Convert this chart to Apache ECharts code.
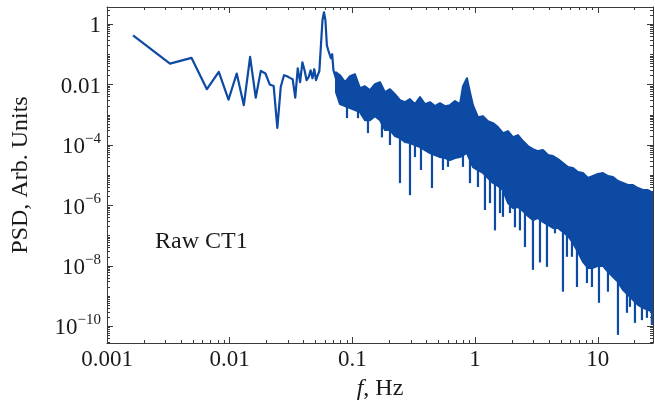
<!DOCTYPE html>
<html><head><meta charset="utf-8">
<script src="https://cdn.jsdelivr.net/npm/echarts@6/dist/echarts.min.js"></script>
<style>html,body{margin:0;padding:0;background:#fff}#c{width:655px;height:410px}</style>
</head><body><div id="c"></div>
<script>
// ---- data ----
const lowFreq = [0.00163,0.00326,0.00489,0.00652,0.00815,0.00978,0.01141,0.01304,0.01467,0.0163,0.01793,0.01956,0.02119,0.02282,0.02445,0.02608,0.02771,0.02934,0.03097,0.0326,0.03423,0.03586,0.03749,0.03912,0.04075,0.04238,0.04401,0.04564,0.04727,0.0489,0.05053,0.05216,0.05379,0.05542,0.05705,0.05868,0.06031,0.06194,0.06357,0.0652,0.06683,0.06846,0.07009,0.07172,0.07335];
const lowPsd = [0.43,0.050,0.077,0.0071,0.0265,0.0032,0.0234,0.0021,0.083,0.0037,0.0286,0.0234,0.0102,0.0091,0.00037,0.0085,0.0206,0.0191,0.0168,0.0152,0.0037,0.035,0.0121,0.055,0.030,0.0141,0.0177,0.030,0.0164,0.0325,0.0141,0.0206,0.0279,0.202,1.36,2.49,1.36,0.202,0.138,0.119,0.075,0.102,0.030,0.0259,0.0164];

const bandFreq = [0.0735,0.0792,0.0870,0.0956,0.1050,0.1153,0.1267,0.1391,0.1528,0.1679,0.1844,0.2025,0.2224,0.2443,0.2684,0.2948,0.3238,0.3556,0.3906,0.4290,0.4712,0.5176,0.5685,0.6244,0.6858,0.7533,0.7969,0.8590,0.9087,0.9614,1.056,1.160,1.274,1.399,1.537,1.688,1.854,2.037,2.237,2.457,2.699,2.964,3.256,3.576,3.928,4.314,4.739,5.205,5.717,6.280,6.898,7.576,8.322,9.141,10.04,11.03,12.11,13.30,14.61,16.05,17.63,19.36,21.27,23.36,25.65,28.18];
const bandUpper = [2.59e-2,2.06e-2,1.21e-2,1.91e-2,2.22e-2,7.66e-3,8.91e-3,6.58e-3,1.04e-2,1.21e-2,5.65e-3,7.10e-3,4.85e-3,3.08e-3,2.64e-3,3.32e-3,2.27e-3,3.86e-3,2.27e-3,2.64e-3,1.95e-3,2.44e-3,1.95e-3,2.10e-3,2.85e-3,2.27e-3,8.91e-3,1.64e-2,5.65e-3,2.10e-3,8.43e-4,9.10e-4,6.21e-4,5.33e-4,3.94e-4,2.49e-4,2.90e-4,1.84e-4,2.14e-4,1.36e-4,9.27e-5,7.38e-5,6.34e-5,6.84e-5,4.67e-5,4.33e-5,3.44e-5,2.54e-5,1.87e-5,1.74e-5,1.28e-5,1.19e-5,8.11e-6,9.44e-6,1.10e-5,1.19e-5,9.44e-6,8.75e-6,6.46e-6,5.55e-6,4.76e-6,4.76e-6,3.79e-6,3.25e-6,3.25e-6,2.59e-6];
const bandLower = [5.65e-3,2.27e-3,1.95e-3,1.67e-3,1.44e-3,1.23e-3,6.70e-4,6.70e-4,9.10e-4,6.70e-4,3.13e-4,3.13e-4,1.99e-4,1.70e-4,1.26e-4,1.16e-4,1.00e-4,8.59e-5,6.84e-5,5.44e-5,4.67e-5,4.01e-5,3.72e-5,3.19e-5,3.72e-5,4.01e-5,4.67e-5,5.44e-5,3.19e-5,1.87e-5,1.49e-5,1.19e-5,8.11e-6,5.55e-6,4.42e-6,3.25e-6,1.21e-6,8.26e-7,8.91e-7,6.58e-7,4.50e-7,3.32e-7,3.86e-7,2.85e-7,2.27e-7,1.80e-7,1.80e-7,1.33e-7,9.82e-8,5.75e-8,2.90e-8,1.36e-8,8.59e-9,8.59e-9,1.00e-8,1.00e-8,6.34e-9,4.33e-9,2.96e-9,1.61e-9,1.10e-9,7.52e-10,5.14e-10,4.09e-10,3.51e-10,3.01e-10];

const spikeFreq = [0.0904,0.1111,0.1340,0.1742,0.2025,0.2443,0.2948,0.3238,0.3623,0.4454,0.5475,0.6014,0.7969,0.9087,1.056,1.204,1.323,1.453,1.596,1.688,1.925,2.114,2.322,2.551,2.964,3.380,3.855,4.479,5.205,5.610,6.163,6.770,8.166,8.969,10.23,12.11,14.61,17.30,18.30,20.10,22.92,25.18,27.6];
const spikeTop = [1.9e-3,1.4e-3,6.7e-4,6.7e-4,3.1e-4,1.7e-4,1.2e-4,1.0e-4,8.6e-5,5.4e-5,4.0e-5,3.7e-5,4.7e-5,3.2e-5,1.5e-5,1.0e-5,7.0e-6,5.1e-6,3.8e-6,3.2e-6,1.0e-6,8.3e-7,8.3e-7,6.1e-7,3.3e-7,3.6e-7,2.4e-7,1.8e-7,1.3e-7,1.1e-7,7.2e-8,3.4e-8,1.0e-8,8.6e-9,1.0e-8,6.3e-9,3.0e-9,1.2e-9,9.4e-10,6.5e-10,4.4e-10,3.8e-10,3.0e-10];
const spikeBottom = [7.8e-4,7.8e-4,2.5e-4,1.8e-4,1.0e-4,5.5e-6,2.2e-6,4.0e-5,1.5e-5,3.8e-6,1.5e-5,1.9e-5,1.9e-5,5.5e-6,4.1e-6,7.1e-7,1.2e-6,1.5e-7,5.6e-7,4.2e-7,5.6e-7,1.9e-7,1.5e-7,4.2e-8,7.4e-9,1.3e-8,9.3e-9,1.2e-7,1.4e-9,2.0e-8,2.0e-8,2.0e-9,2.7e-9,2.0e-9,6.0e-10,1.4e-9,5.2e-11,2.8e-10,4.4e-10,1.3e-10,1.6e-10,1.9e-10,1.1e-10];

// ---- axes / ticks ----
const xRange = [0.001, 28.2];
const yRange = [2.8e-11, 3.73];
const xTickValues = [0.001, 0.01, 0.1, 1, 10];
const xTickLabels = ['0.001', '0.01', '0.1', '1', '10'];
const yTickValues = [1, 0.01, 1e-4, 1e-6, 1e-8, 1e-10];
const yTickLabels = ['1', '0.01', '10^\u22124', '10^\u22126', '10^\u22128', '10^\u221210'];

const L = Math.log10;
const BLUE = '#0c4aa4';
const INK = '#1a1a1a';
const AXC = '#3a3a3a';
const FONT = '"Liberation Serif", "DejaVu Serif", serif';

const xLo = L(xRange[0]), xHi = L(xRange[1]);
const yLo = L(yRange[0]), yHi = L(yRange[1]);
const xMajor = xTickValues.map(L);
const yMajor = yTickValues.map(L);

function minorTicks(lo, hi, majors) {
  const out = [];
  for (let n = Math.floor(lo) - 1; n <= Math.ceil(hi); n++) {
    for (let k = 1; k <= 9; k++) {
      const v = n + L(k);
      if (v <= lo || v >= hi) continue;
      if (majors.some(m => Math.abs(m - v) < 1e-9)) continue;
      out.push(v);
    }
  }
  return out;
}
const xMinor = minorTicks(xLo, xHi, xMajor);
const yMinor = minorTicks(yLo, yHi, yMajor);

function findIdx(arr, v) { return arr.findIndex(t => Math.abs(t - v) < 1e-6); }

function makeX(pos, ticks, len, withLabel, withLine) {
  const ax = {
    type: 'value', gridIndex: 0, position: pos, min: xLo, max: xHi,
    splitLine: { show: false }, minorTick: { show: false }, splitArea: { show: false },
    axisLine: { show: withLine, onZero: false, lineStyle: { color: AXC, width: 1 } },
    axisTick: { show: true, inside: true, length: len, customValues: ticks, lineStyle: { color: AXC, width: 1 } },
    axisLabel: { show: false }
  };
  if (withLabel) {
    ax.axisLabel = {
      show: true, customValues: xMajor, margin: 5, color: INK, fontFamily: FONT, fontSize: 23,
      formatter: v => { const i = findIdx(xMajor, v); return i >= 0 ? xTickLabels[i] : ''; }
    };
    ax.name = '{i|f}, Hz';
    ax.nameLocation = 'middle';
    ax.nameGap = 34;
    ax.nameTextStyle = { color: INK, fontFamily: FONT, fontSize: 24,
      rich: { i: { fontStyle: 'italic', fontFamily: FONT, fontSize: 24, color: INK } } };
  }
  return ax;
}
function makeY(pos, ticks, len, withLabel, withLine) {
  const ax = {
    type: 'value', gridIndex: 0, position: pos, min: yLo, max: yHi,
    splitLine: { show: false }, minorTick: { show: false }, splitArea: { show: false },
    axisLine: { show: withLine, onZero: false, lineStyle: { color: AXC, width: 1 } },
    axisTick: { show: true, inside: true, length: len, customValues: ticks, lineStyle: { color: AXC, width: 1 } },
    axisLabel: { show: false }
  };
  if (withLabel) {
    ax.axisLabel = {
      show: true, customValues: yMajor, margin: 6, color: INK,
      formatter: v => {
        const i = findIdx(yMajor, v); if (i < 0) return '';
        const s = yTickLabels[i];
        if (s.indexOf('^') >= 0) { const p = s.split('^'); return '{b|' + p[0] + '}{s|' + p[1] + '}'; }
        return '{b|' + s + '}';
      },
      rich: {
        b: { fontFamily: FONT, fontSize: 23, color: INK, lineHeight: 27, verticalAlign: 'bottom' },
        s: { fontFamily: FONT, fontSize: 15, color: INK, verticalAlign: 'top' }
      }
    };
    ax.name = 'PSD, Arb. Units';
    ax.nameLocation = 'middle';
    ax.nameGap = 74;
    ax.nameTextStyle = { color: INK, fontFamily: FONT, fontSize: 24 };
  }
  return ax;
}

// ---- series data built from the arrays ----
const lowData = lowFreq.map((f, i) => [L(f), L(lowPsd[i])]);
const bandData = bandFreq.map((f, i) => [L(f), L(bandUpper[i]), L(bandLower[i])]);
const spikeData = spikeFreq.map((f, i) => [L(f), L(spikeTop[i]), L(spikeBottom[i])]);

const chart = echarts.init(document.getElementById('c'), null, { renderer: 'canvas' });
chart.setOption({
  animation: false,
  backgroundColor: '#ffffff',
  grid: { left: 107, right: 2, top: 7, bottom: 67, containLabel: false, outerBoundsMode: 'none' },
  xAxis: [
    makeX('bottom', xMajor, 6, true, true),
    makeX('bottom', xMinor, 3, false, false),
    makeX('top', xMajor, 6, false, true),
    makeX('top', xMinor, 3, false, false)
  ],
  yAxis: [
    makeY('left', yMajor, 6, true, true),
    makeY('left', yMinor, 3, false, false),
    makeY('right', yMajor, 6, false, true),
    makeY('right', yMinor, 3, false, false)
  ],
  graphic: [{
    type: 'text', left: 155, top: 230,
    style: { text: 'Raw CT1', font: '24px "Liberation Serif", serif', fill: INK }
  }],
  series: [
    {
      name: 'band', type: 'custom', xAxisIndex: 0, yAxisIndex: 0, clip: true,
      encode: { x: 0, y: [1, 2] },
      data: bandData,
      renderItem: function (params, api) {
        // one closed outline: upper envelope forward, lower envelope backward
        if (params.dataIndex !== 0) return null;
        const pts = [];
        for (let i = 0; i < bandData.length; i++) pts.push(api.coord([bandData[i][0], bandData[i][1]]));
        for (let i = bandData.length - 1; i >= 0; i--) pts.push(api.coord([bandData[i][0], bandData[i][2]]));
        return { type: 'polygon', shape: { points: pts },
          style: { fill: BLUE, stroke: BLUE, lineWidth: 2, lineJoin: 'round' } };
      }
    },
    {
      name: 'spikes', type: 'custom', xAxisIndex: 0, yAxisIndex: 0, clip: true,
      encode: { x: 0, y: [1, 2] },
      data: spikeData,
      renderItem: function (params, api) {
        const a = api.coord([api.value(0), api.value(1)]);
        const b = api.coord([api.value(0), api.value(2)]);
        return { type: 'line', shape: { x1: a[0], y1: a[1], x2: b[0], y2: b[1] },
          style: { stroke: BLUE, lineWidth: 2.2 } };
      }
    },
    {
      name: 'low', type: 'line', xAxisIndex: 0, yAxisIndex: 0,
      data: lowData, showSymbol: false, symbol: 'none', clip: true,
      lineStyle: { color: BLUE, width: 2.2, join: 'round' }, itemStyle: { color: BLUE }
    }
  ]
});
</script>
</body></html>
